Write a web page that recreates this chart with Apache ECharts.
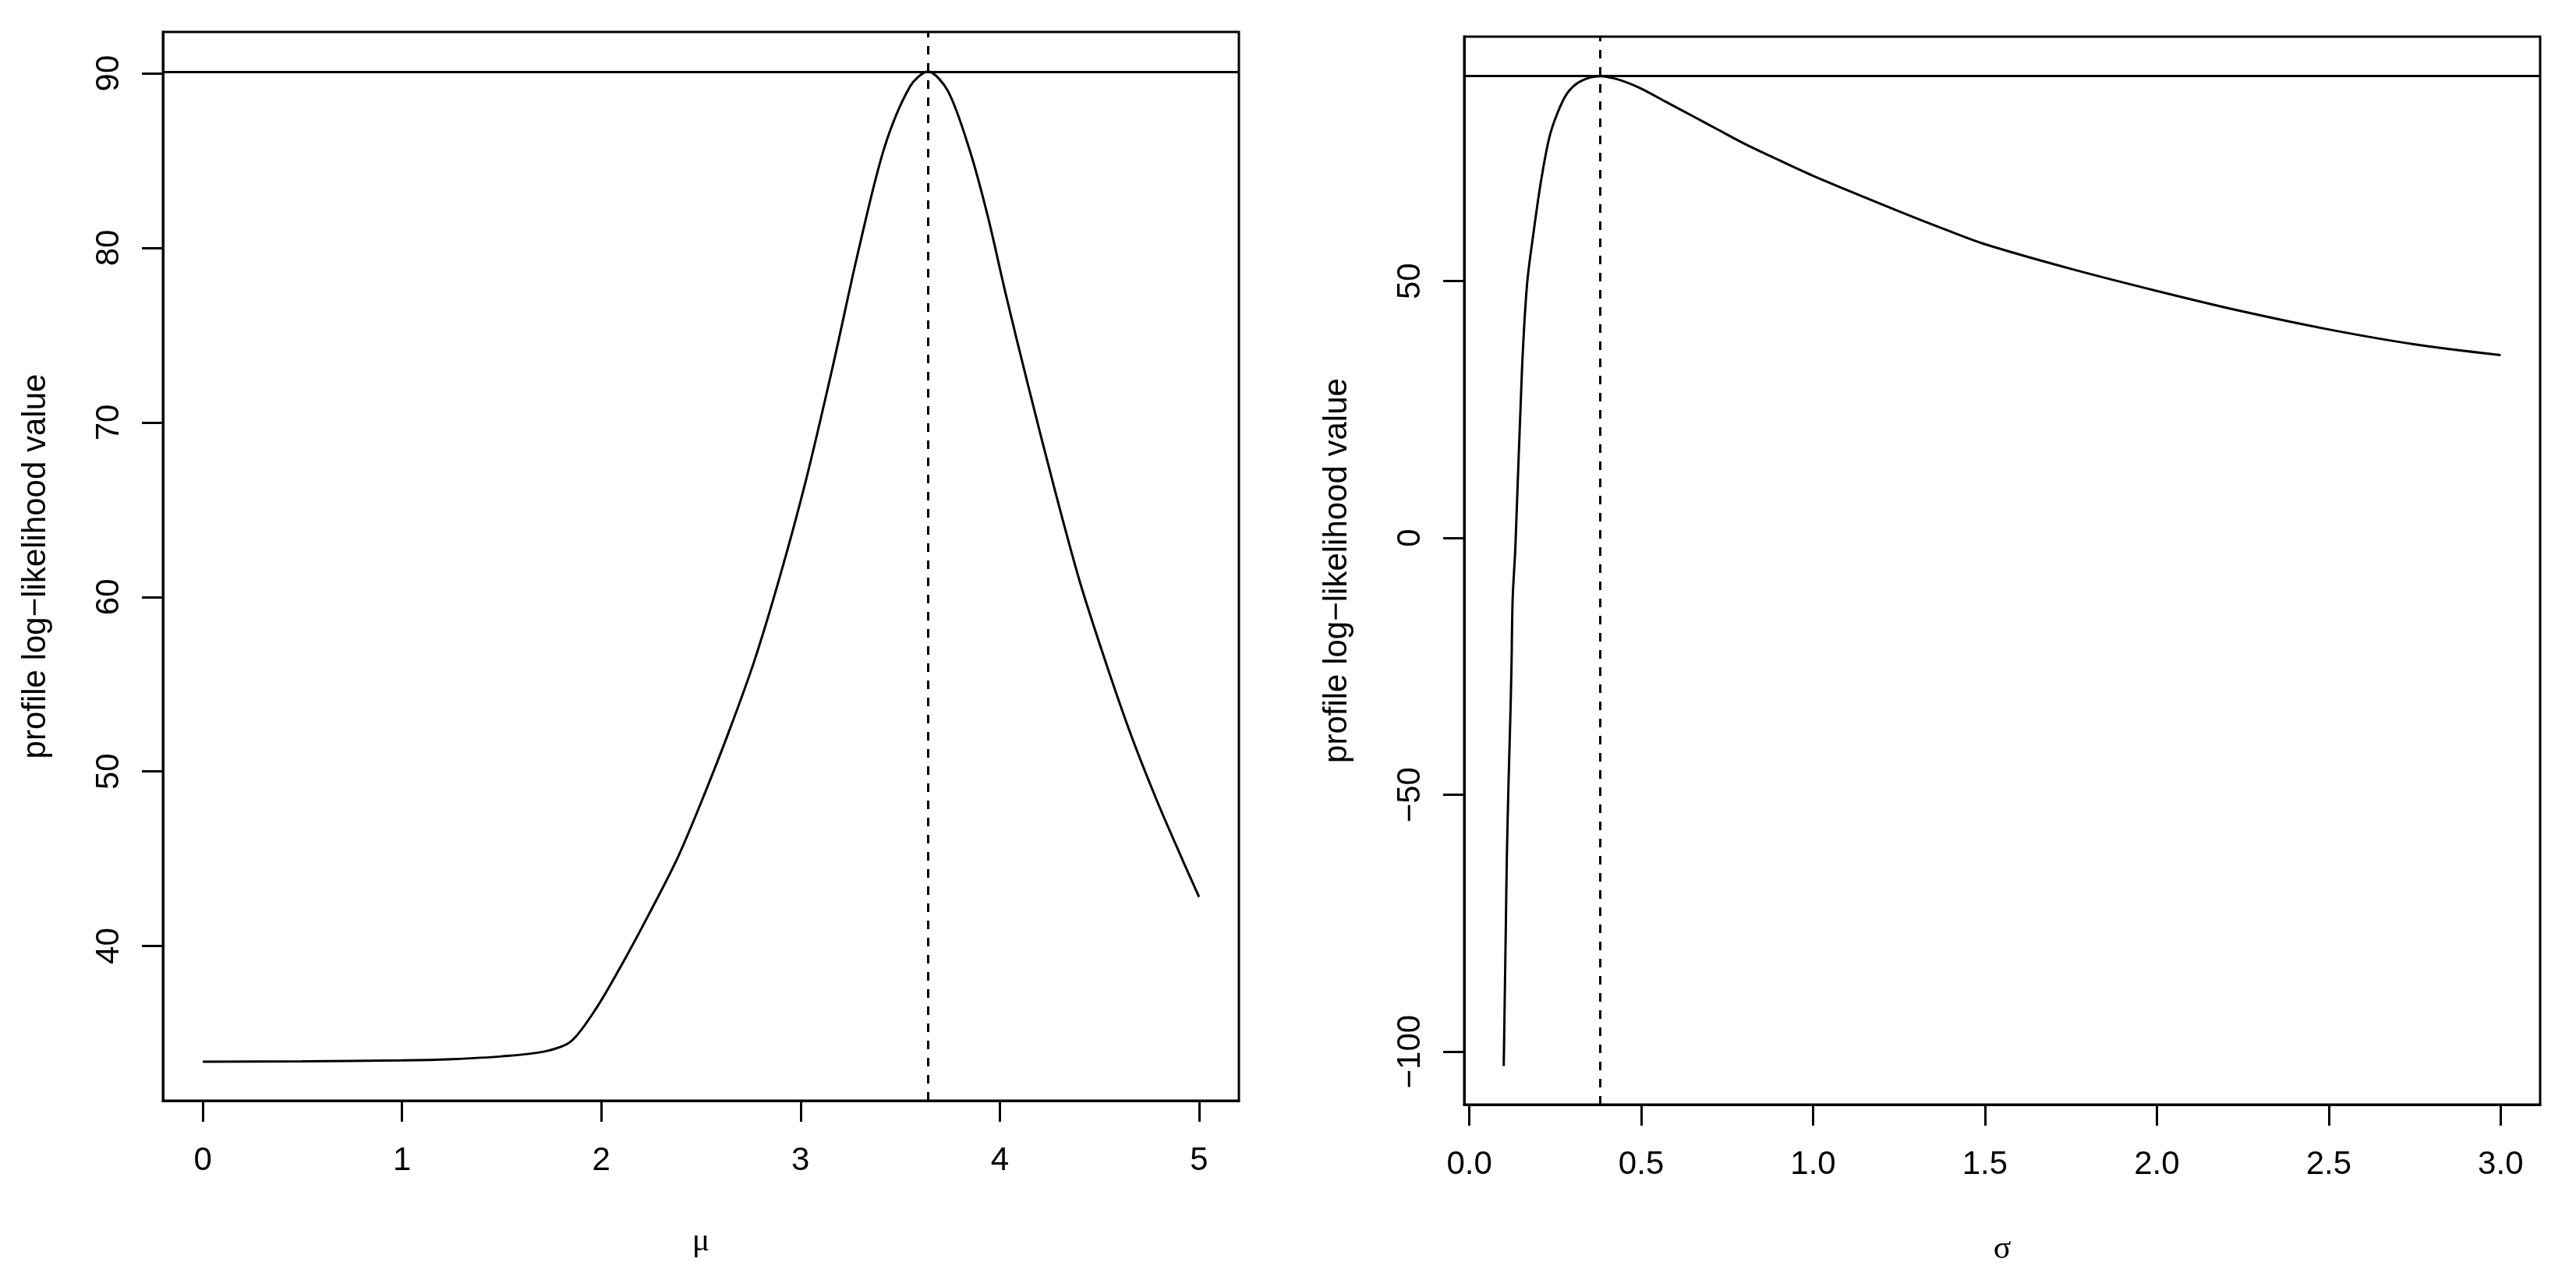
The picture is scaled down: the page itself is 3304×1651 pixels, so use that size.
<!DOCTYPE html>
<html>
<head>
<meta charset="utf-8">
<script src="https://cdn.jsdelivr.net/npm/echarts@6/dist/echarts.min.js"></script>
<style>
  html, body { margin: 0; padding: 0; background: #fff; }
  #chart { width: 3304px; height: 1651px; }
</style>
</head>
<body>
<div id="chart"></div>
<script>
// profile log-likelihood in mu
var muValues = [0, 0.5, 1.0, 1.25, 1.5, 1.72, 1.85, 1.98, 2.11, 2.24, 2.38, 2.50, 2.64, 2.77, 2.90, 3.03,
                3.16, 3.29, 3.42, 3.55, 3.64, 3.74, 3.85, 3.94, 4.03, 4.14, 4.27, 4.40, 4.53, 4.66, 4.79, 4.92, 5.00];
var muLogLik = [33.37, 33.40, 33.45, 33.52, 33.68, 33.97, 34.56, 36.53, 39.08, 41.84, 44.98, 48.20, 52.27, 56.40, 61.31, 66.82,
                73.12, 79.81, 85.71, 89.25, 90.10, 88.98, 85.56, 81.80, 77.35, 72.22, 66.40, 60.94, 56.32, 52.05, 48.29, 44.86, 42.81];

// profile log-likelihood in sigma
var sigmaValues = [0.100, 0.106, 0.109, 0.1135, 0.119, 0.1225, 0.126, 0.134, 0.153, 0.168, 0.187, 0.209, 0.232, 0.255,
                   0.285, 0.323, 0.381, 0.436, 0.496, 0.572, 0.648, 0.723, 0.799, 0.874, 1.0, 1.25, 1.383, 1.5,
                   1.75, 2.0, 2.25, 2.5, 2.75, 3.0];
var sigmaLogLik = [-102.8, -76.0, -62.4, -48.9, -35.4, -25.3, -11.8, -1.6, 32.6, 49.5, 59.6, 69.7, 77.8, 82.5,
                   86.6, 88.9, 89.9, 89.2, 87.6, 84.9, 82.2, 79.5, 76.8, 74.4, 70.5, 63.6, 60.1, 57.2,
                   52.4, 48.1, 44.1, 40.6, 37.7, 35.6];

// reference lines (maximum and its location)
var muHat = 3.643, muMax = 90.08;
var sigmaHat = 0.381, sigmaMax = 89.92;

// tick labels
var muTicks = [0, 1, 2, 3, 4, 5];
var muLLTicks = [40, 50, 60, 70, 80, 90];
var sigmaTicks = [0, 0.5, 1.0, 1.5, 2.0, 2.5, 3.0];
var sigmaLLTicks = [-100, -50, 0, 50];

var font = "'Liberation Sans', Arial, Helvetica, sans-serif";
var black = '#000';

function pairs(xs, ys) {
  return xs.map(function (x, i) { return [x, ys[i]]; });
}

function xAxisOf(grid, name, min, max, ticks, fmt, gap) {
  return {
    type: 'value', gridIndex: grid, min: min, max: max,
    name: name, nameLocation: 'middle', nameGap: gap,
    nameTextStyle: { fontSize: 42, color: black, fontFamily: "'Liberation Serif', 'DejaVu Serif', serif" },
    axisLine: { show: true, onZero: false, lineStyle: { color: black, width: 3 } },
    axisTick: { show: true, length: 27, customValues: ticks, lineStyle: { color: black, width: 3 } },
    axisLabel: { customValues: ticks, fontSize: 42, color: black, fontFamily: font, margin: 56, formatter: fmt },
    splitLine: { show: false }
  };
}

function yAxisOf(grid, min, max, ticks) {
  return {
    type: 'value', gridIndex: grid, min: min, max: max,
    name: 'profile log\u2212likelihood value', nameLocation: 'middle', nameGap: 142, nameRotate: 90,
    nameTextStyle: { fontSize: 42, color: black, fontFamily: font },
    axisLine: { show: true, onZero: false, lineStyle: { color: black, width: 3 } },
    axisTick: { show: true, length: 27, customValues: ticks, lineStyle: { color: black, width: 3 } },
    axisLabel: {
      customValues: ticks, rotate: 90, fontSize: 42, color: black, fontFamily: font, margin: 48,
      formatter: function (v) { return String(v).replace('-', '\u2212'); }
    },
    splitLine: { show: false }
  };
}

function refLines(hat, top) {
  return {
    silent: true, symbol: 'none', label: { show: false },
    data: [
      { yAxis: top, lineStyle: { color: black, width: 3, type: 'solid' } },
      { xAxis: hat, lineStyle: { color: black, width: 3, type: [11, 11] } }
    ]
  };
}

var chart = echarts.init(document.getElementById('chart'), null, { renderer: 'canvas' });
chart.setOption({
  backgroundColor: '#fff',
  animation: false,
  grid: [
    { left: 209, top: 41, width: 1380, height: 1371, show: true, borderColor: black, borderWidth: 3 },
    { left: 1878, top: 47, width: 1380, height: 1370, show: true, borderColor: black, borderWidth: 3 }
  ],
  xAxis: [
    xAxisOf(0, '\u03bc', -0.2, 5.2, muTicks, function (v) { return String(v); }, 160),
    xAxisOf(1, '\u03c3', -0.015, 3.115, sigmaTicks, function (v) { return v.toFixed(1); }, 165)
  ],
  yAxis: [
    yAxisOf(0, 31.14, 92.37, muLLTicks),
    yAxisOf(1, -110.3, 97.6, sigmaLLTicks)
  ],
  series: [
    {
      type: 'line', xAxisIndex: 0, yAxisIndex: 0,
      data: pairs(muValues, muLogLik),
      showSymbol: false, smooth: 0.3,
      lineStyle: { color: black, width: 3 },
      markLine: refLines(muHat, muMax)
    },
    {
      type: 'line', xAxisIndex: 1, yAxisIndex: 1,
      data: pairs(sigmaValues, sigmaLogLik),
      showSymbol: false, smooth: 0.3,
      lineStyle: { color: black, width: 3 },
      markLine: refLines(sigmaHat, sigmaMax)
    }
  ]
});
</script>
</body>
</html>
